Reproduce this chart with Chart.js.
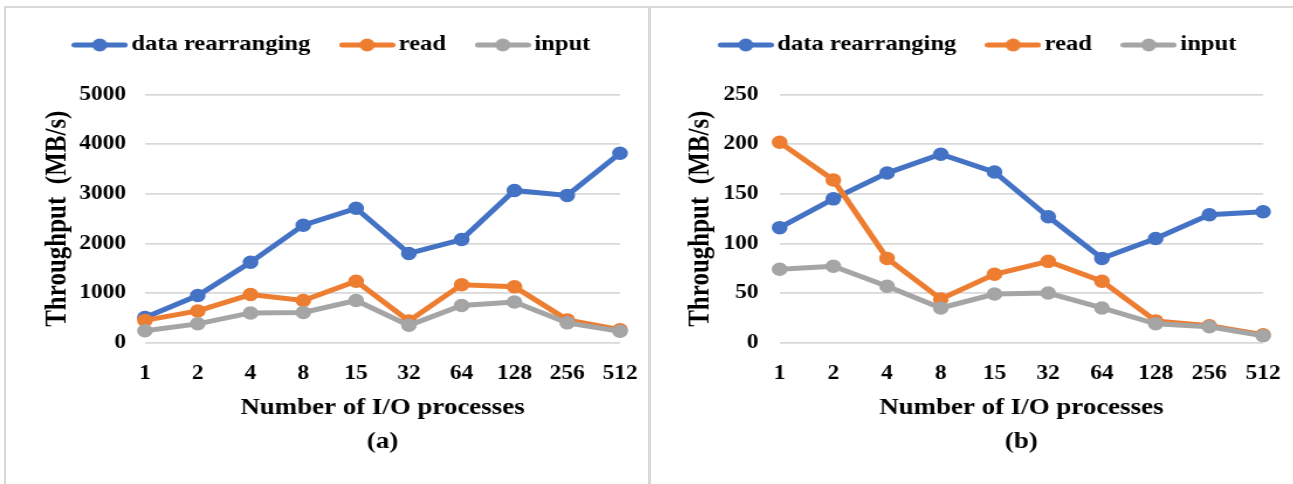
<!DOCTYPE html>
<html><head><meta charset="utf-8">
<script src="https://cdn.jsdelivr.net/npm/chart.js@4.4.0/dist/chart.umd.min.js"></script>
<style>
html,body{margin:0;padding:0;background:#fff;width:1293px;height:484px;overflow:hidden;}
.cv{position:absolute;top:0;transform-origin:0 0;transform:scaleX(1.17);}
.ln{position:absolute;background:#d9d9d9;}
</style></head><body>
<div class="ln" style="left:4px;top:6px;width:1289px;height:2px"></div>
<div class="ln" style="left:4px;top:6px;width:2px;height:478px"></div>
<div class="ln" style="left:648px;top:6px;width:3px;height:478px"></div>
<canvas id="ca" class="cv" width="556" height="484" style="left:0"></canvas>
<canvas id="cb" class="cv" width="550" height="484" style="left:650px"></canvas>
<script>
const categories = ['1','2','4','8','15','32','64','128','256','512'];
const seriesNames = ['data rearranging','read','input'];
const seriesColors = ['#4472C4','#ED7D31','#A5A5A5'];

// panel (a)
const aRearranging = [510, 950, 1620, 2370, 2710, 1800, 2080, 3070, 2970, 3820];
const aRead        = [450, 640, 970, 850, 1240, 440, 1170, 1130, 460, 260];
const aInput       = [240, 380, 600, 610, 850, 350, 750, 820, 400, 230];
const aTicks       = [0, 1000, 2000, 3000, 4000, 5000];

// panel (b)
const bRearranging = [116, 145, 171, 190, 172, 127, 85, 105, 129, 132];
const bRead        = [202, 164, 85, 44, 69, 82, 62, 22, 17, 8];
const bInput       = [74, 77, 57, 35, 49, 50, 35, 19, 16, 7];
const bTicks       = [0, 50, 100, 150, 200, 250];

const xTitle = 'Number of I/O processes';
const yTitle = 'Throughput  (MB/s)';
const FONT = "'Liberation Serif', 'Times New Roman', serif";
Chart.defaults.font.family = FONT;
Chart.defaults.color = '#000';

function legendImage(color) {
  const c = document.createElement('canvas');
  c.width = 48; c.height = 16;
  const g = c.getContext('2d');
  g.strokeStyle = color; g.lineWidth = 5; g.lineCap = 'round';
  g.beginPath(); g.moveTo(2.5, 8); g.lineTo(45.5, 8); g.stroke();
  g.fillStyle = color;
  g.beginPath(); g.arc(24, 8, 6.5, 0, Math.PI * 2); g.fill();
  return c;
}
const legendImgs = seriesColors.map(legendImage);

function makeChart(canvas, values, ticks, sub, geo) {
  const datasets = values.map((v, i) => ({
    label: seriesNames[i],
    data: v,
    borderColor: seriesColors[i],
    backgroundColor: seriesColors[i],
    pointBackgroundColor: seriesColors[i],
    pointBorderColor: seriesColors[i],
    borderWidth: 5,
    pointRadius: 6,
    pointBorderWidth: 1.5,
    tension: 0,
    order: values.length - 1 - i
  }));
  return new Chart(canvas, {
    type: 'line',
    data: { labels: categories, datasets },
    options: {
      responsive: false,
      animation: false,
      devicePixelRatio: 1,
      layout: { padding: { top: 2.5, left: geo.padLeft, right: 0, bottom: 0 } },
      plugins: {
        tooltip: { enabled: false },
        legend: {
          display: true, position: 'top', align: 'center',
          labels: {
            usePointStyle: true, pointStyleWidth: 33, padding: 32,
            font: { size: 21, weight: 'bold' }, color: '#000',
            generateLabels(chart) {
              const items = Chart.defaults.plugins.legend.labels.generateLabels(chart);
              items.sort((p, q) => p.datasetIndex - q.datasetIndex);
              items.forEach(it => { it.pointStyle = legendImgs[it.datasetIndex]; });
              return items;
            }
          }
        },
        subtitle: {
          display: true, text: '', position: 'top', weight: 500,
          font: { size: 1, lineHeight: 1 }, padding: { top: 0, bottom: 28.2 }
        }
      },
      scales: {
        x: {
          grid: { display: false }, border: { display: false },
          ticks: { padding: 11, font: { size: 20, weight: 'bold' }, color: '#000', maxRotation: 0, autoSkip: false },
          title: { display: true, text: [xTitle, sub], color: '#000',
                   font: { size: 23, weight: 'bold', lineHeight: '34px' }, padding: { top: 0, bottom: 24.7 } },
          afterFit(s) { s.height = 484 - 342.7; }
        },
        y: {
          min: ticks[0], max: ticks[ticks.length - 1],
          ticks: { stepSize: ticks[1] - ticks[0], padding: geo.tickPad, font: { size: 20, weight: 'bold' }, color: '#000',
                   callback: (v) => (ticks.includes(v) ? String(v) : '') },
          grid: { color: '#d9d9d9', lineWidth: 1.8, drawTicks: false },
          border: { display: false },
          title: { display: true, text: yTitle, color: '#000',
                   font: { size: 25, weight: 'bold' }, padding: { top: geo.titlePad, bottom: 0 } },
          afterFit(s) { s.width = geo.yWidth; }
        },
        yR: {
          type: 'linear', axis: 'y', position: 'right', display: true,
          grid: { display: false }, border: { display: false }, ticks: { display: false },
          afterFit(s) { s.width = geo.rightWidth; }
        }
      }
    }
  });
}

makeChart(document.getElementById('ca'), [aRearranging, aRead, aInput], aTicks, '(a)',
  { padLeft: 17.3, yWidth: 106.6, tickPad: 16.2, titlePad: 17.3, rightWidth: 26.1 });
makeChart(document.getElementById('cb'), [bRearranging, bRead, bInput], bTicks, '(b)',
  { padLeft: 16.5, yWidth: 94.3, tickPad: 18, titlePad: 11.9, rightWidth: 25.2 });
</script>
</body></html>
